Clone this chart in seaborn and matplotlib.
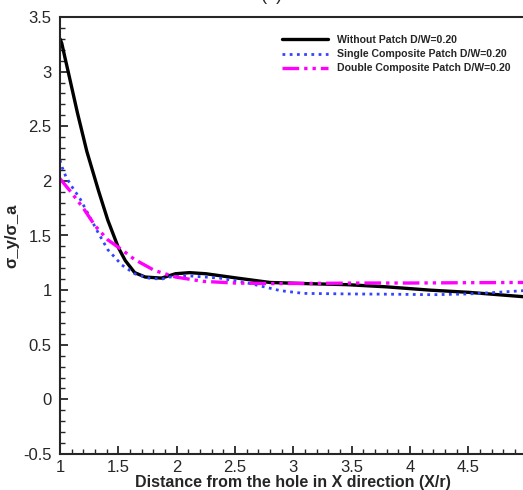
import numpy as np
import pandas as pd
import seaborn as sns
import matplotlib.pyplot as plt
from matplotlib.ticker import MultipleLocator

# values
x_without = [1.0, 1.015, 1.04, 1.07, 1.15, 1.23, 1.33, 1.41, 1.5, 1.56, 1.64, 1.73,
             1.87, 1.99, 2.11, 2.25, 2.52, 2.8, 3.1, 3.46, 3.8, 4.17, 4.5, 4.97]
y_without = [3.30, 3.26, 3.14, 3.00, 2.62, 2.27, 1.91, 1.64, 1.39, 1.27, 1.16, 1.12,
             1.11, 1.15, 1.16, 1.15, 1.11, 1.07, 1.06, 1.05, 1.03, 1.00, 0.98, 0.94]

x_single = [1.0, 1.02, 1.05, 1.1, 1.17, 1.24, 1.33, 1.41, 1.53, 1.64, 1.76, 1.87, 1.94,
            2.11, 2.37, 2.63, 2.89, 3.09, 3.49, 3.9, 4.2, 4.5, 4.75, 4.97]
y_single = [2.19, 2.12, 2.04, 1.95, 1.84, 1.70, 1.52, 1.37, 1.23, 1.15, 1.11, 1.10, 1.12,
            1.13, 1.11, 1.06, 0.995, 0.97, 0.965, 0.962, 0.958, 0.965, 0.98, 0.995]

x_double = [1.0, 1.1, 1.2, 1.3, 1.41, 1.53, 1.64, 1.81, 1.99, 2.23, 2.5,
            2.8, 3.2, 3.6, 4.0, 4.5, 4.97]
y_double = [2.02, 1.89, 1.75, 1.59, 1.46, 1.37, 1.28, 1.18, 1.12, 1.08, 1.065,
            1.06, 1.062, 1.065, 1.065, 1.068, 1.07]

labels = ["Without Patch D/W=0.20", "Single Composite Patch D/W=0.20",
          "Double Composite Patch D/W=0.20"]

sns.set_style("ticks")
plt.rcParams["font.family"] = ["Liberation Sans", "DejaVu Sans"]

fig = plt.figure(figsize=(5.23, 4.9), dpi=100)
ax = fig.add_axes([60 / 523, 36 / 490, 466.6 / 523, 437 / 490])

df_w = pd.DataFrame({"x": x_without, "y": y_without})
df_s = pd.DataFrame({"x": x_single, "y": y_single})
df_d = pd.DataFrame({"x": x_double, "y": y_double})

sns.lineplot(data=df_w, x="x", y="y", ax=ax, color="black", lw=2.4,
             label=labels[0], sort=False)
sns.lineplot(data=df_s, x="x", y="y", ax=ax, color="#3344ff", lw=2.0,
             label=labels[1], sort=False)
ax.lines[-1].set_linestyle((0, (1, 1.6)))
sns.lineplot(data=df_d, x="x", y="y", ax=ax, color="#ff00ff", lw=2.4,
             label=labels[2], sort=False)
ax.lines[-1].set_linestyle((0, (5, 1.5, 1, 1.5, 1, 1.5)))

ax.set_xlim(1, 5)
ax.set_ylim(-0.5, 3.5)
ax.xaxis.set_minor_locator(MultipleLocator(0.1))
ax.yaxis.set_minor_locator(MultipleLocator(0.1))
ax.set_xticks(np.arange(1, 5.01, 0.5))
ax.set_xticklabels(["1", "1.5", "2", "2.5", "3", "3.5", "4", "4.5", ""])
ax.set_yticks(np.arange(-0.5, 3.51, 0.5))
ax.set_yticklabels(["-0.5", "0", "0.5", "1", "1.5", "2", "2.5", "3", "3.5"])
ax.tick_params(axis="both", which="major", direction="in", length=6, width=1.3,
               labelsize=12, top=False, right=False)
ax.tick_params(axis="y", which="major", pad=6)
ax.tick_params(axis="x", which="major", pad=4)
ax.tick_params(which="minor", direction="in", length=3.5, width=1.0,
               top=False, right=False)
for sp in ax.spines.values():
    sp.set_linewidth(1.5)
    sp.set_visible(True)

ax.set_xlabel("Distance from the hole in X direction (X/r)", fontsize=11.5,
              fontweight="bold", labelpad=0)
ax.set_ylabel("σ_y/σ_a", fontsize=12, fontweight="bold", labelpad=3)

leg = ax.legend(loc="upper left", bbox_to_anchor=(282 / 523, 1 - 35 / 490),
                bbox_transform=fig.transFigure, frameon=False, borderpad=0,
                borderaxespad=0, handlelength=4.4, handletextpad=0.8,
                labelspacing=0.4, prop={"size": 7.6, "weight": "bold"})

fig.text(0.52, 1.01, "(a)", fontsize=13, ha="center", va="center")

fig.savefig("out.png", dpi=100)
